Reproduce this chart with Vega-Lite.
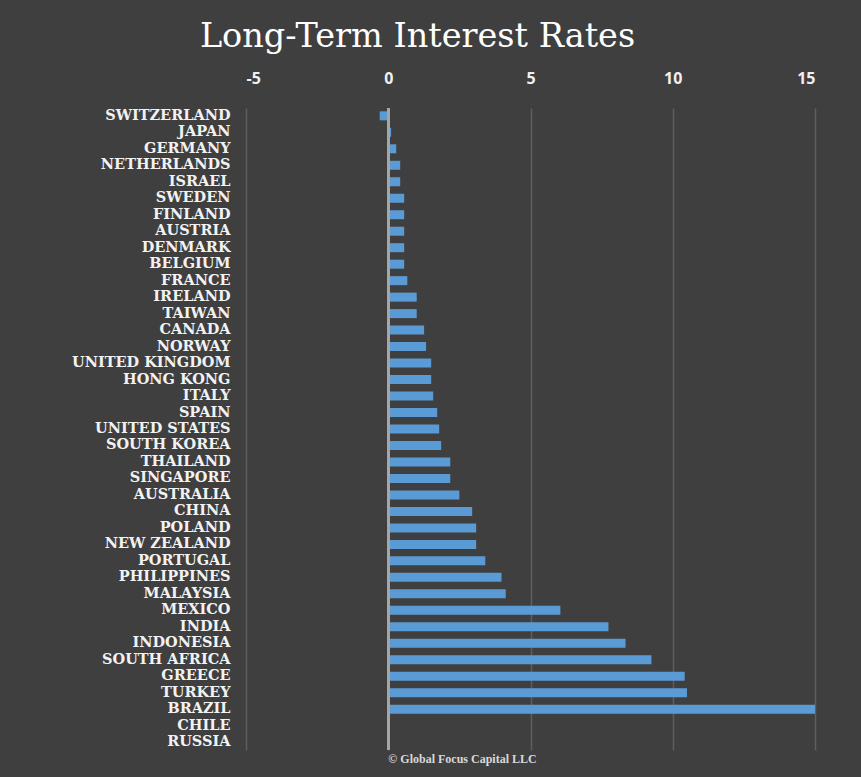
{
  "$schema": "https://vega.github.io/schema/vega-lite/v6.json",
  "width": 569,
  "height": 642,
  "autosize": {"type": "none"},
  "padding": {"left": 246, "top": 108, "right": 46, "bottom": 27},
  "background": "#3f3f3f",
  "title": {
    "text": "Long-Term Interest Rates",
    "font": "DejaVu Serif",
    "fontSize": 33.5,
    "fontWeight": "normal",
    "color": "#ffffff",
    "anchor": "middle",
    "dx": -113,
    "offset": 16
  },
  "data": {
    "values": [
      {"country": "SWITZERLAND", "rate": -0.3},
      {"country": "JAPAN", "rate": 0.1},
      {"country": "GERMANY", "rate": 0.28},
      {"country": "NETHERLANDS", "rate": 0.42},
      {"country": "ISRAEL", "rate": 0.42},
      {"country": "SWEDEN", "rate": 0.56},
      {"country": "FINLAND", "rate": 0.56},
      {"country": "AUSTRIA", "rate": 0.56},
      {"country": "DENMARK", "rate": 0.56},
      {"country": "BELGIUM", "rate": 0.56},
      {"country": "FRANCE", "rate": 0.67},
      {"country": "IRELAND", "rate": 1.0},
      {"country": "TAIWAN", "rate": 1.0},
      {"country": "CANADA", "rate": 1.26},
      {"country": "NORWAY", "rate": 1.33},
      {"country": "UNITED KINGDOM", "rate": 1.51},
      {"country": "HONG KONG", "rate": 1.51},
      {"country": "ITALY", "rate": 1.58},
      {"country": "SPAIN", "rate": 1.72},
      {"country": "UNITED STATES", "rate": 1.79},
      {"country": "SOUTH KOREA", "rate": 1.86},
      {"country": "THAILAND", "rate": 2.18},
      {"country": "SINGAPORE", "rate": 2.18},
      {"country": "AUSTRALIA", "rate": 2.5},
      {"country": "CHINA", "rate": 2.95},
      {"country": "POLAND", "rate": 3.09},
      {"country": "NEW ZEALAND", "rate": 3.09},
      {"country": "PORTUGAL", "rate": 3.41},
      {"country": "PHILIPPINES", "rate": 3.98},
      {"country": "MALAYSIA", "rate": 4.13},
      {"country": "MEXICO", "rate": 6.05},
      {"country": "INDIA", "rate": 7.74},
      {"country": "INDONESIA", "rate": 8.34},
      {"country": "SOUTH AFRICA", "rate": 9.25},
      {"country": "GREECE", "rate": 10.42},
      {"country": "TURKEY", "rate": 10.5},
      {"country": "BRAZIL", "rate": 15.0},
      {"country": "CHILE", "rate": null},
      {"country": "RUSSIA", "rate": null}
    ]
  },
  "encoding": {
    "y": {
      "field": "country",
      "type": "nominal",
      "sort": null,
      "scale": {
        "domain": ["SWITZERLAND", "JAPAN", "GERMANY", "NETHERLANDS", "ISRAEL", "SWEDEN", "FINLAND", "AUSTRIA", "DENMARK", "BELGIUM", "FRANCE", "IRELAND", "TAIWAN", "CANADA", "NORWAY", "UNITED KINGDOM", "HONG KONG", "ITALY", "SPAIN", "UNITED STATES", "SOUTH KOREA", "THAILAND", "SINGAPORE", "AUSTRALIA", "CHINA", "POLAND", "NEW ZEALAND", "PORTUGAL", "PHILIPPINES", "MALAYSIA", "MEXICO", "INDIA", "INDONESIA", "SOUTH AFRICA", "GREECE", "TURKEY", "BRAZIL", "CHILE", "RUSSIA"],
        "paddingInner": 0.45,
        "paddingOuter": 0.2
      },
      "axis": {
        "title": null,
        "ticks": false,
        "domain": false,
        "grid": false,
        "labelFont": "DejaVu Serif",
        "labelFontSize": 14.5,
        "labelFontWeight": "bold",
        "labelColor": "#f2f2f2",
        "labelPadding": 16,
        "labelLimit": 300
      }
    }
  },
  "layer": [
    {
      "mark": {"type": "bar", "color": "#5b9bd5", "height": 9},
      "encoding": {
        "x": {
          "field": "rate",
          "type": "quantitative",
          "scale": {"domain": [-5, 15], "nice": false},
          "axis": {
            "orient": "top",
            "title": null,
            "values": [-5, 0, 5, 10, 15],
            "labelExpr": "datum.value < 0 ? '-' + abs(datum.value) : '' + datum.value",
            "ticks": false,
            "domain": false,
            "grid": true,
            "gridColor": "#5e5e5e",
            "gridWidth": 1.5,
            "labelFont": "Open Sans",
            "labelFontSize": 16,
            "labelFontWeight": "bold",
            "labelColor": "#f0f0f0",
            "labelPadding": 22
          }
        }
      }
    },
    {
      "mark": {"type": "rule", "color": "#a6a6a6", "strokeWidth": 2},
      "encoding": {
        "x": {
          "datum": 0,
          "type": "quantitative",
          "axis": {
            "orient": "bottom",
            "title": "© Global Focus Capital LLC",
            "titleFont": "Liberation Serif",
            "titleFontSize": 12,
            "titleFontWeight": "bold",
            "titleColor": "#d9d9d9",
            "titleX": 216,
            "titleY": 12,
            "titleBaseline": "alphabetic",
            "labels": false,
            "ticks": false,
            "domain": false,
            "grid": false
          }
        },
        "y": null
      }
    }
  ],
  "resolve": {"axis": {"x": "independent"}},
  "config": {"view": {"stroke": null}}
}
